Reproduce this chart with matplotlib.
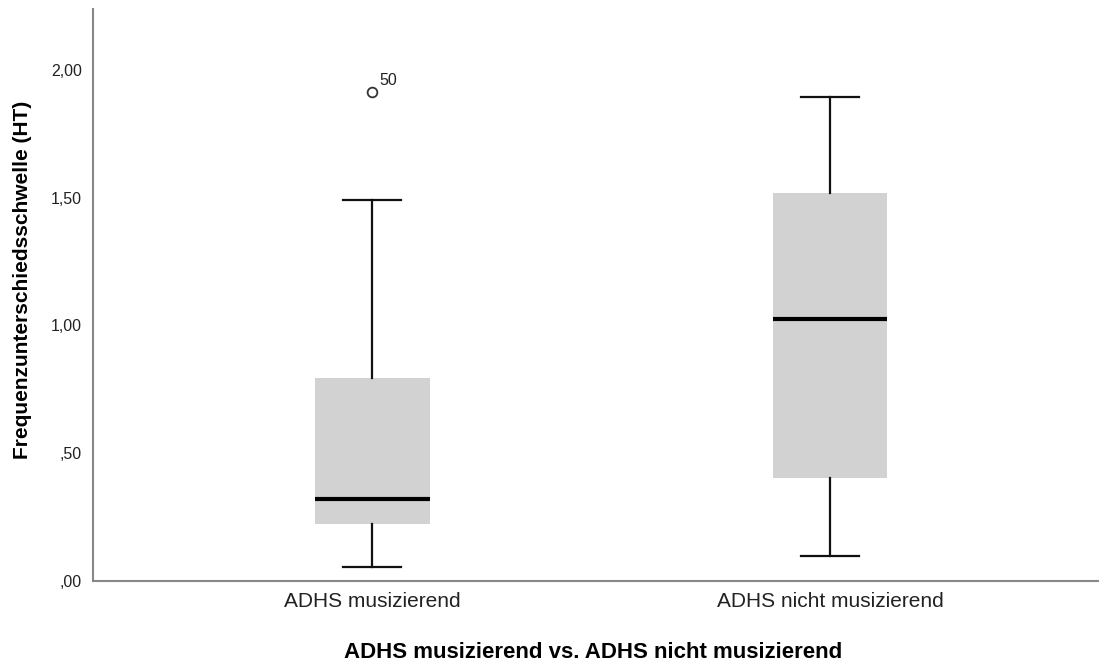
import matplotlib
matplotlib.use("Agg")
import matplotlib.pyplot as plt

plt.rcParams["font.family"] = ["Liberation Sans", "DejaVu Sans"]

groups = ["ADHS musizierend", "ADHS nicht musizierend"]
whisker_low = [0.054, 0.096]
q1 = [0.220, 0.400]
median = [0.318, 1.025]
q3 = [0.792, 1.517]
whisker_high = [1.491, 1.895]
outliers = [[1.913], []]
outlier_ids = [["50"], []]

stats = []
for i, g in enumerate(groups):
    stats.append({"label": g, "whislo": whisker_low[i], "q1": q1[i], "med": median[i],
                  "q3": q3[i], "whishi": whisker_high[i], "fliers": outliers[i]})

fig = plt.figure(figsize=(11.08, 6.62), dpi=100)
ax = fig.add_axes([0.0839, 0.1231, 0.9071, 0.8633])

ax.bxp(stats, positions=[0, 1], widths=0.25, patch_artist=True, showfliers=True,
       boxprops=dict(facecolor="#d2d2d2", edgecolor="#d2d2d2", linewidth=0),
       medianprops=dict(color="black", linewidth=3),
       whiskerprops=dict(color="#111111", linewidth=1.6),
       capprops=dict(color="#111111", linewidth=1.6),
       capwidths=0.126,
       flierprops=dict(marker="o", markerfacecolor="white", markeredgecolor="#333333",
                       markersize=7, markeredgewidth=1.3))

for i in range(len(groups)):
    for v, lab in zip(outliers[i], outlier_ids[i]):
        ax.annotate(lab, (i, v), xytext=(5, 5), textcoords="offset points",
                    fontsize=11.5, color="#222222")

ax.set_xlim(-0.61, 1.585)
ax.set_ylim(0, 2.239)
yt = [0, 0.5, 1.0, 1.5, 2.0]
ax.set_yticks(yt)
ax.set_yticklabels([",00", ",50", "1,00", "1,50", "2,00"], fontsize=11.5, color="#222222")
ax.set_xticks([0, 1])
ax.set_xticklabels(groups, fontsize=15, color="#222222")
ax.tick_params(axis="y", length=0, pad=8)
ax.tick_params(axis="x", length=0, pad=8)

for s in ["top", "right"]:
    ax.spines[s].set_visible(False)
for s in ["left", "bottom"]:
    ax.spines[s].set_color("#888888")
    ax.spines[s].set_linewidth(1.5)

ax.set_ylabel("Frequenzunterschiedsschwelle (HT)", fontsize=15, fontweight="bold")
ax.yaxis.set_label_coords(-0.061, 0.526)
ax.set_xlabel("ADHS musizierend vs. ADHS nicht musizierend", fontsize=16, fontweight="bold")
ax.xaxis.set_label_coords(0.498, -0.107)

fig.savefig("out.png", dpi=100)
